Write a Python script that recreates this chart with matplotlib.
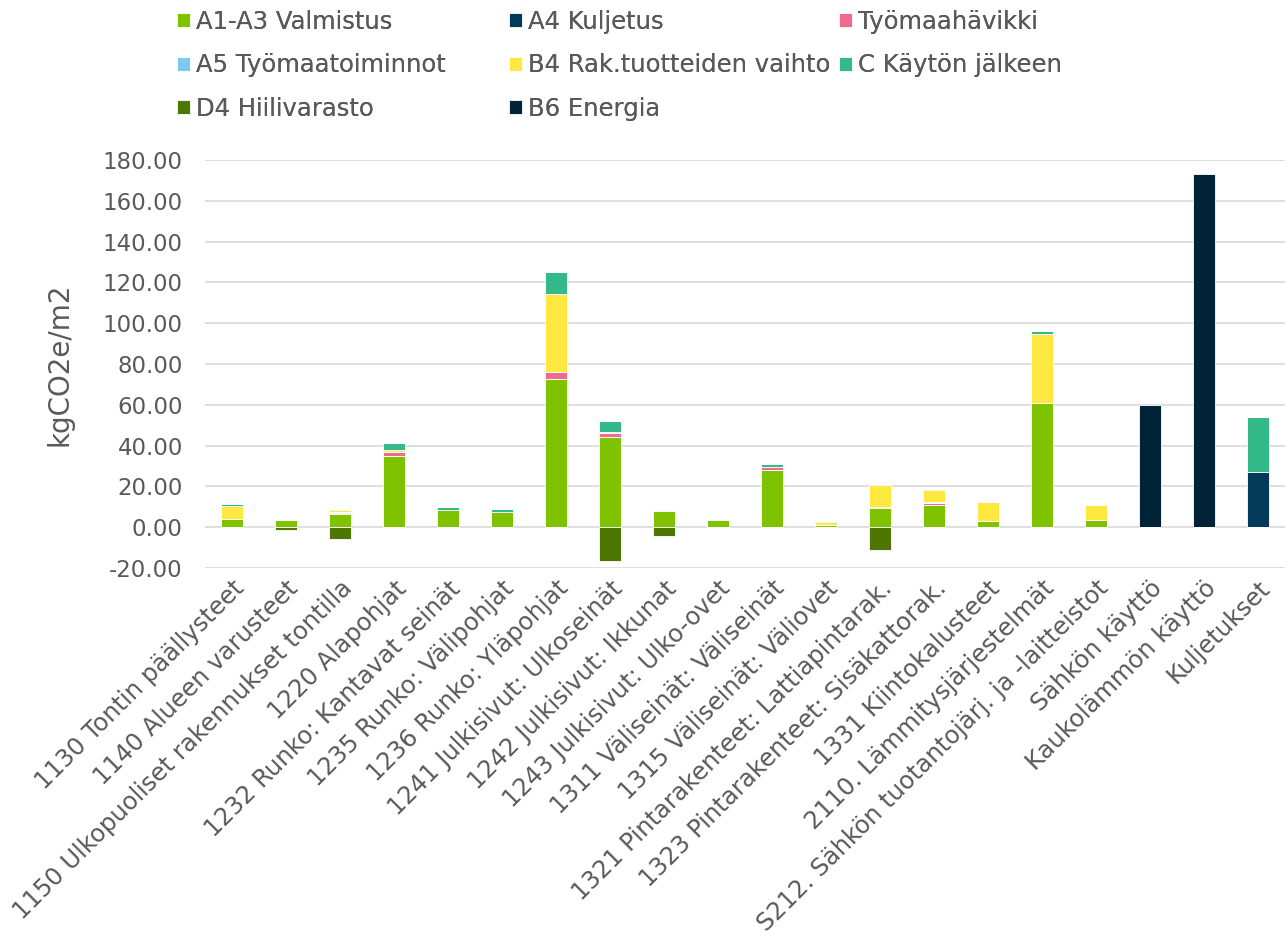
import matplotlib
matplotlib.use("Agg")
import matplotlib.pyplot as plt
import numpy as np
from matplotlib.ticker import FuncFormatter

categories = [
    "1130 Tontin päällysteet", "1140 Alueen varusteet", "1150 Ulkopuoliset rakennukset tontilla",
    "1220 Alapohjat", "1232 Runko: Kantavat seinät", "1235 Runko: Välipohjat",
    "1236 Runko: Yläpohjat", "1241 Julkisivut: Ulkoseinät", "1242 Julkisivut: Ikkunat",
    "1243 Julkisivut: Ulko-ovet", "1311 Väliseinät: Väliseinät", "1315 Väliseinät: Väliovet",
    "1321 Pintarakenteet: Lattiapintarak.", "1323 Pintarakenteet: Sisäkattorak.",
    "1331 Kiintokalusteet", "2110. Lämmitysjärjestelmät", "S212. Sähkön tuotantojärj. ja -laitteistot",
    "Sähkön käyttö", "Kaukolämmön käyttö", "Kuljetukset",
]

a1_a3 = [4.0, 3.5, 6.5, 35.0, 8.5, 7.4, 72.5, 44.3, 7.8, 3.6, 27.8, 1.0, 9.5, 10.8, 2.8, 61.0, 3.3, 0, 0, 0]
a4 = [0, 0, 0, 0, 0, 0, 0, 0, 0, 0, 0, 0, 0, 0, 0, 0, 0, 0, 0, 27.0]
hukka = [0, 0, 0.5, 1.8, 0, 0, 3.5, 2.0, 0, 0, 1.6, 0, 0.5, 1.0, 0, 0, 0, 0, 0, 0]
a5 = [0, 0, 0.5, 0, 0, 0, 0, 0, 0.4, 0.3, 0, 0, 0, 0.6, 0.4, 0, 0.4, 0, 0, 0]
b4 = [6.2, 0, 0.8, 0.8, 0, 0, 38.4, 0.3, 0, 0, 0, 1.7, 10.5, 5.9, 9.0, 33.6, 7.3, 0, 0, 0]
c = [1.3, 0.2, 0.4, 3.9, 1.6, 1.5, 10.6, 5.7, 0.1, 0, 1.6, 0.2, 0.5, 0.2, 0, 1.4, 0, 0, 0, 27.0]
d4 = [0, -1.5, -5.8, 0, 0, 0, 0, -16.8, -4.2, 0, 0, 0, -11.0, 0, 0, 0, 0, 0, 0, 0]
b6 = [0, 0, 0, 0, 0, 0, 0, 0, 0, 0, 0, 0, 0, 0, 0, 0, 0, 60.0, 173.0, 0]

series_names = ["A1-A3 Valmistus", "A4 Kuljetus", "Työmaahävikki", "A5 Työmaatoiminnot",
                "B4 Rak.tuotteiden vaihto", "C Käytön jälkeen", "D4 Hiilivarasto", "B6 Energia"]
colors = ["#7fc200", "#023a5a", "#ee6a8e", "#80c9ee", "#ffe941", "#34b98b", "#4d7602", "#002337"]

plt.rcParams['font.family'] = ['DejaVu Sans']
text_color = "#595959"

W, H = 1288, 950
fig = plt.figure(figsize=(W/100, H/100), dpi=100)
ax = fig.add_axes([205/W, 1-568/H, (1285-205)/W, (568-160)/H])

x = np.arange(len(categories))
width = 0.4
pos_series = [a1_a3, a4, hukka, a5, b4, c, None, b6]
handles = [None]*8
bottom = np.zeros(len(categories))
for i, s in enumerate(pos_series):
    if s is None:
        continue
    vals = np.array(s, dtype=float)
    h = ax.bar(x, vals, width, bottom=bottom, color=colors[i], edgecolor="white", linewidth=0.6,
               label=series_names[i], zorder=3)
    handles[i] = h
    bottom += vals
h = ax.bar(x, np.array(d4), width, bottom=0, color=colors[6], edgecolor="white", linewidth=0.6,
           label=series_names[6], zorder=3)
handles[6] = h

ax.set_xlim(-0.5, len(categories) - 0.5)
ax.set_ylim(-20, 180)
ax.set_yticks(np.arange(-20, 181, 20))
ax.yaxis.set_major_formatter(FuncFormatter(lambda v, p: f"{v:.2f}"))
ax.grid(axis="y", color="#d9d9d9", linewidth=1.2, zorder=0)
ax.set_axisbelow(True)
for sp in ax.spines.values():
    sp.set_visible(False)
ax.tick_params(axis="y", length=0, labelsize=16.5, colors=text_color, pad=16)
ax.tick_params(axis="x", length=0, labelsize=17.5, colors=text_color, pad=6)
ax.set_xticks(x)
ax.set_xticklabels(categories, rotation=45, ha="right", rotation_mode="anchor", fontsize=17.5, color=text_color)
ax.set_ylabel("kgCO2e/m2", fontsize=20, color=text_color, va="center")
ax.yaxis.set_label_coords((60-205)/1080, 0.5)

cols = [[0, 3, 6], [1, 4, 7], [2, 5]]
col_x = [172, 504, 834]
for ci, idxs in enumerate(cols):
    lg = fig.legend([handles[i] for i in idxs], [series_names[i] for i in idxs],
                    ncol=1, loc="upper left", bbox_to_anchor=(col_x[ci]/W, 1 - 5/H), frameon=False,
                    fontsize=17.5, handlelength=0.53, handleheight=0.53, handletextpad=0.25,
                    labelspacing=0.8, labelcolor=text_color, borderaxespad=0, borderpad=0.2)
    fig.add_artist(lg)

fig.savefig("out.png", dpi=100)
